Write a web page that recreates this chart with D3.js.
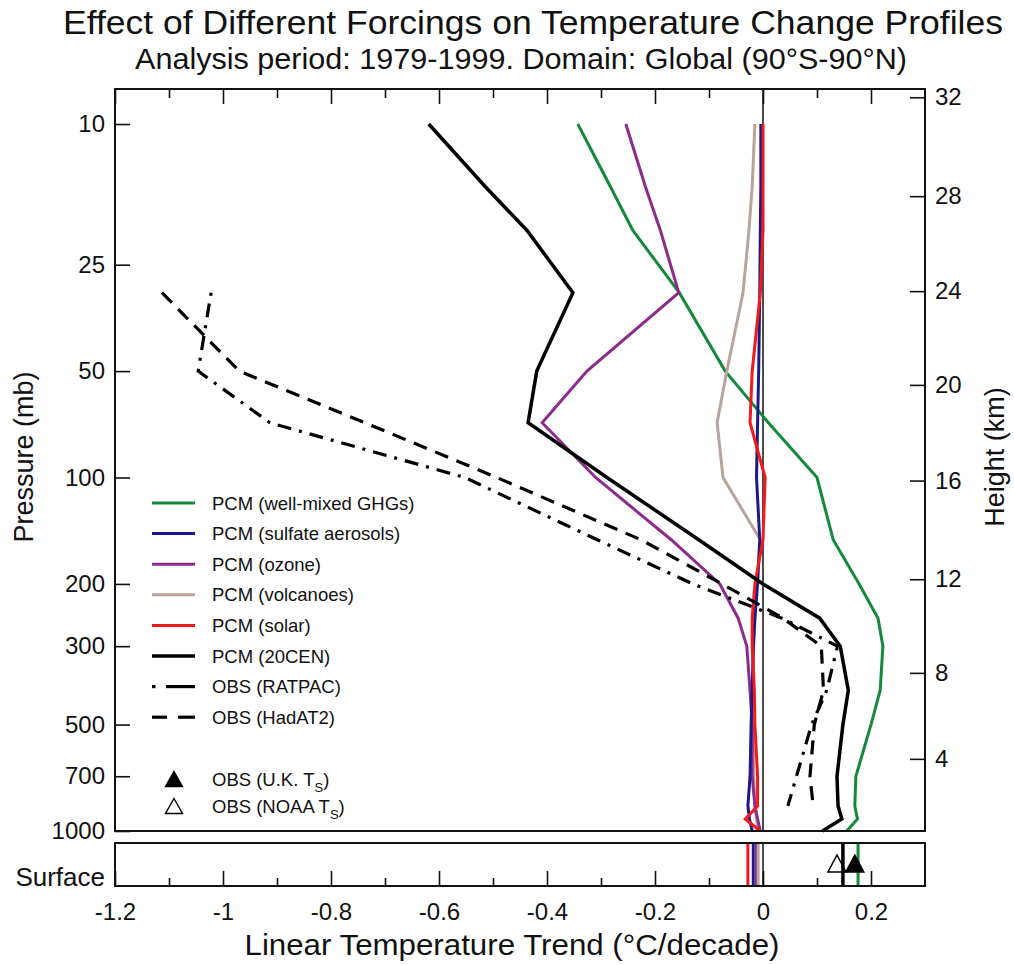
<!DOCTYPE html>
<html>
<head>
<meta charset="utf-8">
<script src="https://d3js.org/d3.v7.min.js"></script>
<style>
  body { margin: 0; background: #fff; }
  svg text { font-family: "Liberation Sans", Arial, Helvetica, sans-serif; fill: #111; }
</style>
</head>
<body>
<div id="chart"></div>
<script>
// pressure levels (mb) of the model profiles
var levels = [10, 15, 20, 30, 50, 70, 100, 150, 200, 250, 300, 400, 500, 700, 850, 925, 1000];

// PCM runs, trend in degC/decade at each level
var ghg       = [-0.343, -0.283, -0.241, -0.155, -0.07, 0.01, 0.10, 0.13, 0.178, 0.213, 0.222, 0.217, 0.20, 0.172, 0.17, 0.175, 0.155];
var sulfate   = [-0.004, -0.004, -0.005, -0.006, -0.008, -0.01, -0.012, -0.006, -0.01, -0.015, -0.018, -0.02, -0.022, -0.024, -0.028, -0.025, -0.02];
var ozone     = [-0.254, -0.218, -0.19, -0.156, -0.326, -0.409, -0.31, -0.17, -0.08, -0.046, -0.03, -0.024, -0.02, -0.02, -0.015, -0.01, -0.005];
var volcanoes = [-0.015, -0.02, -0.026, -0.037, -0.067, -0.085, -0.074, -0.005, -0.012, -0.015, -0.017, -0.018, -0.018, -0.017, -0.015, -0.012, -0.008];
var solar     = [0.0, 0.0, 0.0, -0.005, -0.02, -0.024, 0.004, 0.0, -0.015, -0.02, -0.02, -0.016, -0.015, -0.01, -0.01, -0.033, -0.005];
var cen20     = [-0.619, -0.515, -0.437, -0.352, -0.419, -0.435, -0.289, -0.119, 0.0, 0.105, 0.143, 0.158, 0.148, 0.137, 0.139, 0.146, 0.11];

// radiosonde obs only go 30 - 850 mb
var obsLevels = [30, 50, 70, 100, 150, 200, 250, 300, 400, 500, 700, 850];
var ratpac    = [-1.022, -1.046, -0.913, -0.552, -0.307, -0.13, 0.035, 0.138, 0.118, 0.09, 0.062, 0.046];
var hadat2    = [-1.113, -0.97, -0.737, -0.493, -0.226, -0.076, 0.037, 0.108, 0.112, 0.095, 0.087, 0.093];

// surface trends
var surfModelNames  = ["ghg", "ozone", "volcanoes", "sulfate", "solar", "cen20"];
var surfModelValues = [0.176, -0.012, -0.009, -0.018, -0.028, 0.148];
var surfObsNames  = ["OBS (U.K. T", "OBS (NOAA T"];
var surfObsValues = [0.170, 0.137];

// axis ticks
var pressureTicks = [10, 25, 50, 100, 200, 300, 500, 700, 1000];
var heightTicks = [4, 8, 12, 16, 20, 24, 28, 32];
var heightPressures = [625, 357, 194, 102, 54.7, 29.7, 16.0, 8.4];
var xMajorTicks = [-1.2, -1, -0.8, -0.6, -0.4, -0.2, 0, 0.2];
var xMinorTicks = [-1.1, -0.9, -0.7, -0.5, -0.3, -0.1, 0.1];

var legendNames = ["PCM (well-mixed GHGs)", "PCM (sulfate aerosols)", "PCM (ozone)", "PCM (volcanoes)",
                   "PCM (solar)", "PCM (20CEN)", "OBS (RATPAC)", "OBS (HadAT2)"];

var colors = {
  ghg: "#13893c", sulfate: "#1c1a86", ozone: "#8d2b8c", volcanoes: "#b9a39b",
  solar: "#f0191b", cen20: "#000000", ratpac: "#000000", hadat2: "#000000"
};

var svgWidth = 1014;
var svgHeight = 965;

// plot boxes
var plot = {left: 115, right: 925, top: 89, bottom: 831};
var surf = {top: 843, bottom: 886};

var svg = d3.select("#chart")
  .append("svg")
  .attr("width", svgWidth)
  .attr("height", svgHeight);

var x = d3.scaleLinear()
  .domain([-1.2, 0.3])
  .range([plot.left, plot.right]);

var y = d3.scaleLog()
  .domain([7.96, 1000])
  .range([plot.top, plot.bottom]);

var surfY = (surf.top + surf.bottom) / 2;

// ---- titles
svg.append("text")
  .attr("x", 533).attr("y", 34)
  .attr("text-anchor", "middle")
  .style("font-size", "33px")
  .attr("textLength", 940).attr("lengthAdjust", "spacingAndGlyphs")
  .text("Effect of Different Forcings on Temperature Change Profiles");

svg.append("text")
  .attr("x", 521).attr("y", 69)
  .attr("text-anchor", "middle")
  .style("font-size", "29px")
  .attr("textLength", 772).attr("lengthAdjust", "spacingAndGlyphs")
  .text("Analysis period: 1979-1999. Domain: Global (90°S-90°N)");

svg.append("text")
  .attr("x", 512).attr("y", 955)
  .attr("text-anchor", "middle")
  .style("font-size", "29px")
  .attr("textLength", 535).attr("lengthAdjust", "spacingAndGlyphs")
  .text("Linear Temperature Trend (°C/decade)");

svg.append("text")
  .attr("transform", "translate(33, 457) rotate(-90)")
  .attr("text-anchor", "middle")
  .style("font-size", "27px")
  .text("Pressure (mb)");

svg.append("text")
  .attr("transform", "translate(1004, 457) rotate(-90)")
  .attr("text-anchor", "middle")
  .style("font-size", "27px")
  .text("Height (km)");

// ---- axes
var leftAxis = d3.axisLeft(y)
  .tickValues(pressureTicks)
  .tickFormat(d3.format("d"))
  .tickSize(-15)
  .tickPadding(10);

var rightAxis = d3.axisRight(y)
  .tickValues(heightPressures)
  .tickFormat(function(d, i) { return heightTicks[i]; })
  .tickSize(-15)
  .tickPadding(10);

var topMajor = d3.axisTop(x).tickValues(xMajorTicks).tickSize(-15).tickFormat("");
var topMinor = d3.axisTop(x).tickValues(xMinorTicks).tickSize(-9).tickFormat("");
var bottomMajor = d3.axisBottom(x).tickValues(xMajorTicks).tickSize(-15).tickPadding(17)
  .tickFormat(function(d) { return d === 0 ? "0" : String(d); });
var bottomMinor = d3.axisBottom(x).tickValues(xMinorTicks).tickSize(-8).tickFormat("");

function styleAxis(g) {
  g.select(".domain").remove();
  g.selectAll(".tick line").attr("stroke", "#111").attr("stroke-width", 1.6);
  g.selectAll("text").style("font-size", "24px").attr("fill", "#111");
}

svg.append("g").attr("transform", `translate(${plot.left},0)`).call(leftAxis).call(styleAxis);
svg.append("g").attr("transform", `translate(${plot.right},0)`).call(rightAxis).call(styleAxis);
svg.append("g").attr("transform", `translate(0,${plot.top})`).call(topMajor).call(styleAxis);
svg.append("g").attr("transform", `translate(0,${plot.top})`).call(topMinor).call(styleAxis);
svg.append("g").attr("transform", `translate(0,${surf.bottom})`).call(bottomMajor).call(styleAxis);
svg.append("g").attr("transform", `translate(0,${surf.bottom})`).call(bottomMinor).call(styleAxis);

svg.append("text")
  .attr("x", 105).attr("y", surf.bottom)
  .attr("text-anchor", "end")
  .style("font-size", "26px")
  .text("Surface");

// ---- zero lines
svg.append("line")
  .attr("x1", x(0)).attr("x2", x(0))
  .attr("y1", plot.top).attr("y2", plot.bottom)
  .attr("stroke", "#111").attr("stroke-width", 1.5);
svg.append("line")
  .attr("x1", x(0)).attr("x2", x(0))
  .attr("y1", surf.top).attr("y2", surf.bottom)
  .attr("stroke", "#111").attr("stroke-width", 1.5);

// ---- profiles
var line = d3.line()
  .x(function(d) { return x(d[0]); })
  .y(function(d) { return y(d[1]); });

var profiles = [
  {key: "ghg", vals: ghg, lev: levels, dash: null, w: 3},
  {key: "volcanoes", vals: volcanoes, lev: levels, dash: null, w: 3},
  {key: "ozone", vals: ozone, lev: levels, dash: null, w: 3},
  {key: "sulfate", vals: sulfate, lev: levels, dash: null, w: 3},
  {key: "solar", vals: solar, lev: levels, dash: null, w: 3},
  {key: "cen20", vals: cen20, lev: levels, dash: null, w: 3.5},
  {key: "ratpac", vals: ratpac, lev: obsLevels, dash: "3,8,14,8", w: 3.2},
  {key: "hadat2", vals: hadat2, lev: obsLevels, dash: "14,9", w: 3.2}
];

var plotArea = svg.append("g");

plotArea.selectAll(".profile")
  .data(profiles)
  .enter()
  .append("path")
  .attr("class", "profile")
  .attr("d", function(p) { return line(p.vals.map(function(v, i) { return [v, p.lev[i]]; })); })
  .attr("fill", "none")
  .attr("stroke", function(p) { return colors[p.key]; })
  .attr("stroke-width", function(p) { return p.w; })
  .attr("stroke-dasharray", function(p) { return p.dash; })
  .attr("stroke-linejoin", "miter");

// ---- surface panel
svg.selectAll(".surfline")
  .data(surfModelValues)
  .enter()
  .append("line")
  .attr("class", "surfline")
  .attr("x1", function(d) { return x(d); })
  .attr("x2", function(d) { return x(d); })
  .attr("y1", surf.top).attr("y2", surf.bottom)
  .attr("stroke", function(d, i) { return colors[surfModelNames[i]]; })
  .attr("stroke-width", function(d, i) { return surfModelNames[i] === "cen20" ? 3.5 : 3; });

function triangle(cx, cy, w, h) {
  return `M${cx},${cy - h / 2}L${cx + w / 2},${cy + h / 2}L${cx - w / 2},${cy + h / 2}Z`;
}

svg.selectAll(".surftri")
  .data(surfObsValues)
  .enter()
  .append("path")
  .attr("class", "surftri")
  .attr("d", function(d) { return triangle(x(d), surfY - 1, 18, 17); })
  .attr("fill", function(d, i) { return i === 0 ? "#000" : "#fff"; })
  .attr("fill-opacity", function(d, i) { return i === 0 ? 1 : 0; })
  .attr("stroke", "#000")
  .attr("stroke-width", 1.5);

// ---- frames
svg.append("rect")
  .attr("x", plot.left).attr("y", plot.top)
  .attr("width", plot.right - plot.left).attr("height", plot.bottom - plot.top)
  .attr("fill", "none").attr("stroke", "#111").attr("stroke-width", 2);
svg.append("rect")
  .attr("x", plot.left).attr("y", surf.top)
  .attr("width", plot.right - plot.left).attr("height", surf.bottom - surf.top)
  .attr("fill", "none").attr("stroke", "#111").attr("stroke-width", 2);

// ---- legend
var legendKeys = ["ghg", "sulfate", "ozone", "volcanoes", "solar", "cen20", "ratpac", "hadat2"];
var legendRowY = function(i) { return 503 + i * 30.6; };
var legend = svg.append("g");

profiles.forEach(function(p) {
  var idx = legendKeys.indexOf(p.key);
  var ly = legendRowY(idx);
  if (p.key === "ratpac") {
    legend.append("line").attr("x1", 152).attr("x2", 155.5).attr("y1", ly).attr("y2", ly)
      .attr("stroke", "#000").attr("stroke-width", 3.2);
    legend.append("line").attr("x1", 166).attr("x2", 195).attr("y1", ly).attr("y2", ly)
      .attr("stroke", "#000").attr("stroke-width", 3.2);
  } else if (p.key === "hadat2") {
    legend.append("line").attr("x1", 152).attr("x2", 167).attr("y1", ly).attr("y2", ly)
      .attr("stroke", "#000").attr("stroke-width", 3.2);
    legend.append("line").attr("x1", 178).attr("x2", 195).attr("y1", ly).attr("y2", ly)
      .attr("stroke", "#000").attr("stroke-width", 3.2);
  } else {
    legend.append("line").attr("x1", 152).attr("x2", 195).attr("y1", ly).attr("y2", ly)
      .attr("stroke", colors[p.key]).attr("stroke-width", p.w);
  }
  legend.append("text")
    .attr("x", 212).attr("y", ly)
    .attr("dy", "0.36em")
    .style("font-size", "18.5px")
    .text(legendNames[idx]);
});

var triRows = [779, 806];
surfObsNames.forEach(function(name, i) {
  legend.append("path")
    .attr("d", triangle(174, triRows[i], 17, 15))
    .attr("fill", i === 0 ? "#000" : "#fff")
    .attr("stroke", "#000").attr("stroke-width", 1.4);
  var t = legend.append("text")
    .attr("x", 212).attr("y", triRows[i])
    .attr("dy", "0.36em")
    .style("font-size", "18.5px")
    .text(name);
  t.append("tspan").attr("dy", 6).style("font-size", "13px").text("S");
  t.append("tspan").attr("dy", -6).text(")");
});
</script>
</body>
</html>
